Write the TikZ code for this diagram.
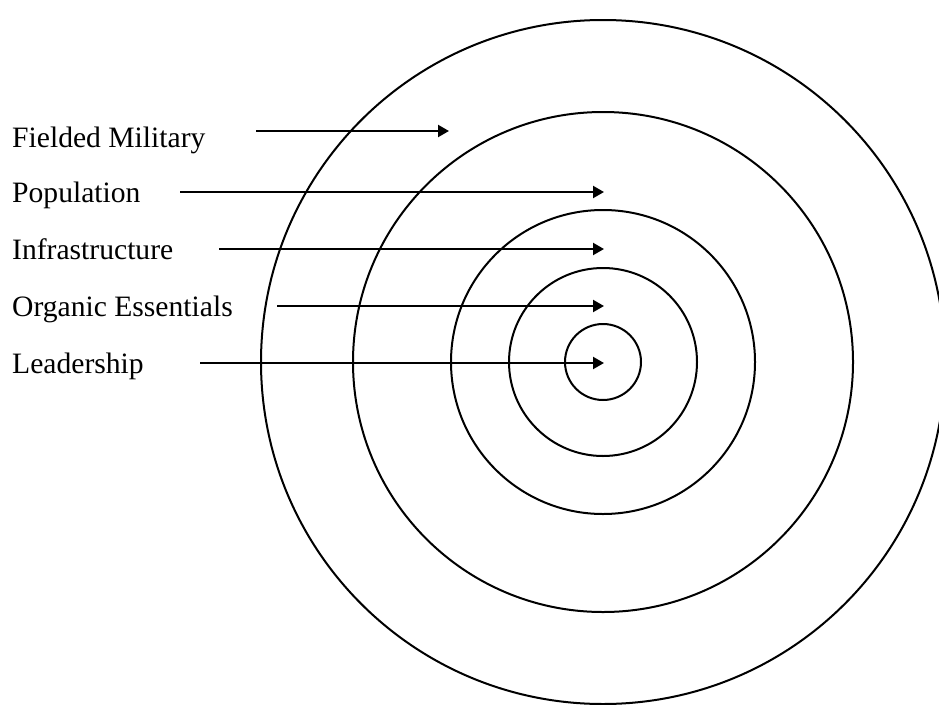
\documentclass[tikz,border=0pt]{standalone}
\usepackage{fontspec}
\setmainfont{Liberation Serif}
\usepackage{tikz}
\usetikzlibrary{arrows.meta}

\begin{document}
\begin{tikzpicture}[
    x=1pt,y=-1pt,
    ring/.style={draw=black, line width=2pt},
    lab/.style={anchor=base west, inner sep=0pt, font=\fontsize{29.6pt}{34pt}\selectfont},
    edge/.style={-{Triangle[length=11pt,width=12pt]}, draw=black, line width=2.2pt}
  ]
    \useasboundingbox (0,0) rectangle (939,704);
    \clip (0,0) rectangle (939,704);

    \coordinate (c) at (603,362);
    \foreach \r in {38,94,152,250,342}
      \draw[ring] (c) circle (\r);

    \node[lab] (t1) at (12,147) {Fielded Military};
    \node[lab] (t2) at (12,202) {Population};
    \node[lab] (t3) at (12,259) {Infrastructure};
    \node[lab] (t4) at (12,316) {Organic Essentials};
    \node[lab] (t5) at (12,373) {Leadership};

    \coordinate (a1) at (256,131);  \coordinate (b1) at (449,131);
    \coordinate (a2) at (180,192);  \coordinate (b2) at (604,192);
    \coordinate (a3) at (219,249);  \coordinate (b3) at (604,249);
    \coordinate (a4) at (277,306);  \coordinate (b4) at (604,306);
    \coordinate (a5) at (200,363);  \coordinate (b5) at (604,363);

    \foreach \i in {1,...,5}
      \draw[edge] (a\i) -- (b\i);
  \end{tikzpicture}
\end{document}
